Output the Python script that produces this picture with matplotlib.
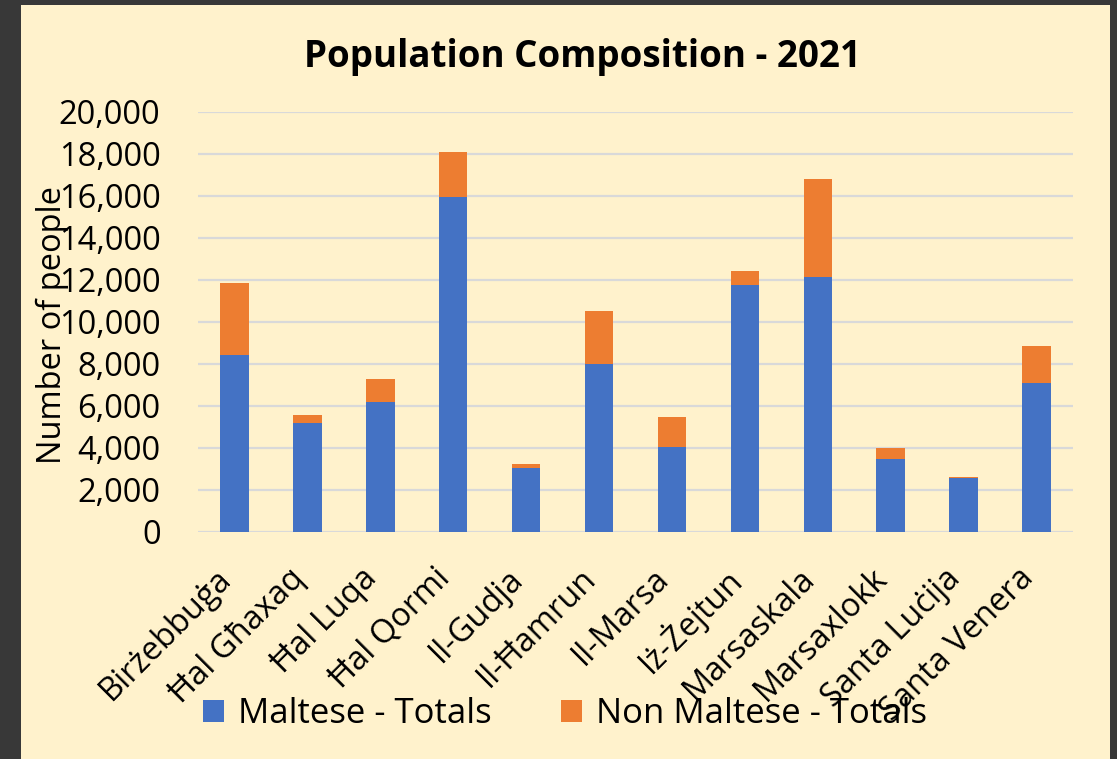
import matplotlib.pyplot as plt
import matplotlib.patches as mpatches
import matplotlib.transforms as mtransforms
import numpy as np
from matplotlib.ticker import FuncFormatter

towns = ['Birżebbuġa', 'Ħal Għaxaq', 'Ħal Luqa', 'Ħal Qormi', 'Il-Gudja', 'Il-Ħamrun',
         'Il-Marsa', 'Iż-Żejtun', 'Marsaskala', 'Marsaxlokk', 'Santa Luċija', 'Santa Venera']
maltese = [8430, 5200, 6200, 15970, 3030, 7980, 4060, 11780, 12160, 3490, 2590, 7110]
non_maltese = [3410, 360, 1070, 2140, 210, 2540, 1430, 650, 4650, 510, 40, 1750]

blue = '#4472C4'
orange = '#ED7D31'
cream = '#FFF2CC'
font = 'Open Sans'
fs = 23.5

plt.rcParams['font.family'] = [font, 'DejaVu Sans']

fig = plt.figure(figsize=(11.17, 7.59), dpi=100)
fig.patch.set_facecolor('#383838')
# cream panel inside the dark frame
fig.add_artist(mpatches.Rectangle((21 / 1117, 0), (1110 - 21) / 1117, 1 - 5 / 759,
                                  transform=fig.transFigure, facecolor=cream,
                                  edgecolor='none', zorder=0))

ax = fig.add_axes([198 / 1117, 1 - 532 / 759, 875 / 1117, 420 / 759])
ax.set_facecolor('none')

x = np.arange(len(towns))
ax.bar(x, maltese, 0.39, color=blue, label='Maltese - Totals', zorder=3)
ax.bar(x, non_maltese, 0.39, bottom=maltese, color=orange,
       label='Non Maltese - Totals', zorder=3)

ax.set_xlim(-0.5, len(towns) - 0.5)
ax.set_ylim(0, 20000)
ax.set_yticks(np.arange(0, 20001, 2000))
ax.yaxis.set_major_formatter(FuncFormatter(lambda v, p: f'{int(v):,}'))
ax.grid(axis='y', color='#D9D9D9', linewidth=1.6, zorder=0)
for s in ax.spines.values():
    s.set_visible(False)
ax.tick_params(axis='both', length=0, labelsize=fs, colors='black')
ax.tick_params(axis='y', pad=27)
ax.set_xticks(x)
ax.set_xticklabels(towns, rotation=45, ha='right', rotation_mode='anchor', va='center')
ax.tick_params(axis='x', pad=30)
# nudge the slanted labels a little to the left, like the original
shift = mtransforms.ScaledTranslation(-8 / 100, 0, fig.dpi_scale_trans)
for lab in ax.get_xticklabels():
    lab.set_transform(lab.get_transform() + shift)
    lab.set_zorder(5)

fig.text(52 / 1117, 1 - 325 / 759, 'Number of people', rotation=90,
         ha='center', va='center', fontsize=fs)

fig.text(582 / 1117, 1 - 57 / 759, 'Population Composition - 2021',
         ha='center', va='center', fontsize=26.5, fontweight='bold')

leg = fig.legend(loc='center', bbox_to_anchor=(565 / 1117, 1 - 714 / 759), ncol=2,
                 frameon=False, fontsize=25, handlelength=0.6, handleheight=0.6,
                 handletextpad=0.4, columnspacing=2.0)
leg.set_zorder(1)

fig.savefig('out.png', dpi=100, facecolor=fig.get_facecolor())
